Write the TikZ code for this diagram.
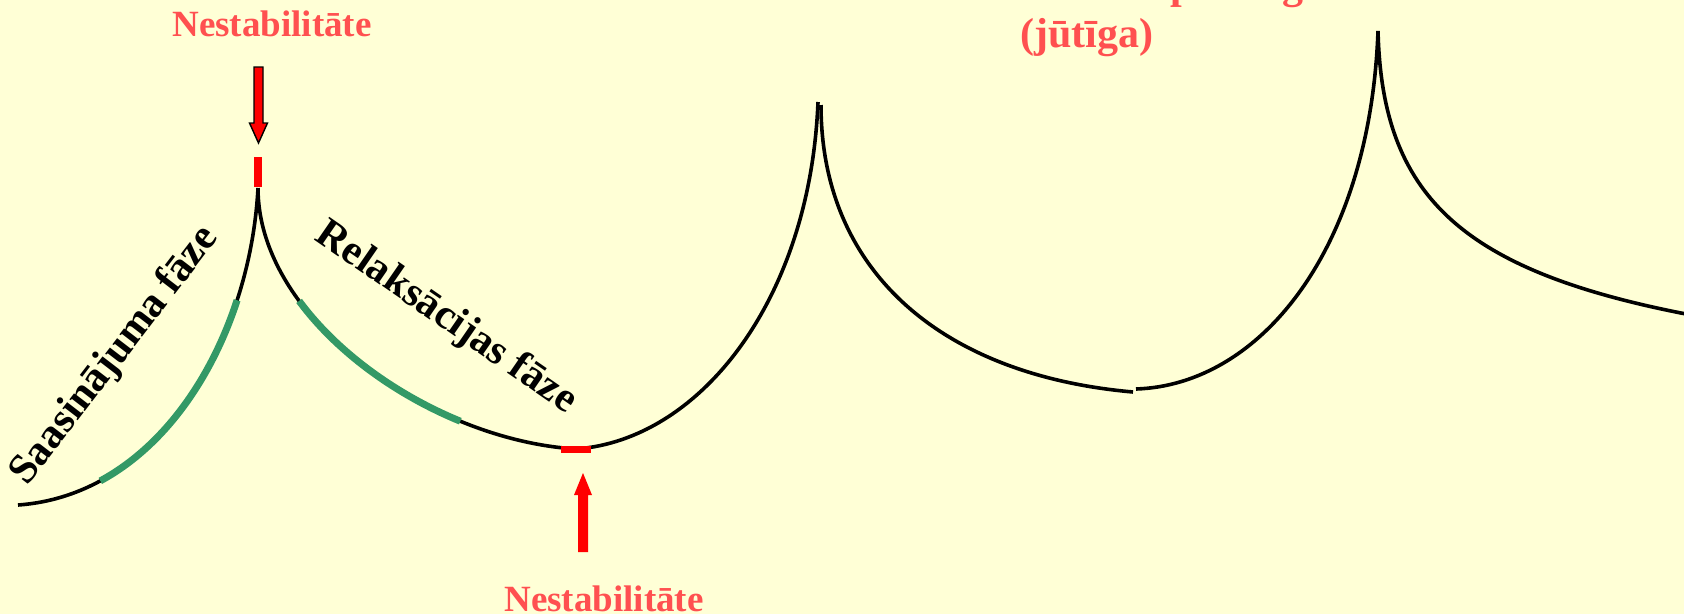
\documentclass[tikz,border=0pt]{standalone}
\usepackage{fontspec}
\setmainfont{Liberation Serif}
\definecolor{bgyellow}{RGB}{255,255,214}
\definecolor{txtred}{RGB}{255,80,80}
\definecolor{arrred}{RGB}{255,0,0}
\definecolor{phgreen}{RGB}{51,153,102}
\tikzset{
  curveline/.style={line width=3.6pt, black, line cap=butt},
  redmark/.style={line width=8pt, arrred, line cap=butt},
  redlabel/.style={text=txtred, font=\fontsize{37}{42}\selectfont\bfseries, inner sep=0pt},
  redlabelbig/.style={text=txtred, font=\fontsize{42}{48.5}\selectfont\bfseries, inner sep=0pt, align=left},
  phaselabel/.style={text=black, font=\fontsize{42}{48}\selectfont\bfseries, inner sep=0pt},
  blockarrow/.style={fill=arrred},
  blockarrowout/.style={fill=arrred, draw=black, line width=1.4pt, line join=miter}
}
\newcommand{\greenpart}[6]{%
  \begin{pgfscope}
  \pgfsetlinewidth{7pt}\pgfsetbuttcap
  \pgfsetstrokecolor{phgreen}
  \pgfpathcurvebetweentime{#1}{#2}{\pgfpointanchor{#3}{center}}{\pgfpointanchor{#4}{center}}{\pgfpointanchor{#5}{center}}{\pgfpointanchor{#6}{center}}
  \pgfusepath{stroke}
  \end{pgfscope}}
\begin{document}
\begin{tikzpicture}[x=1pt,y=-1pt]
\fill[bgyellow] (0,0) rectangle (1684,614);
\useasboundingbox (0,0) rectangle (1684,614);
\clip (0,0) rectangle (1684,614);
% control points
\coordinate (L0) at (18,505);
\coordinate (L1) at (160,495);
\coordinate (L2) at (250,340);
\coordinate (C1) at (258,188);
\coordinate (R1) at (258,320);
\coordinate (R2) at (430,440);
\coordinate (M1) at (576,449);
\coordinate (U1) at (700,440);
\coordinate (U2) at (810,300);
\coordinate (C2a) at (818,102);
\coordinate (C2b) at (821,105);
\coordinate (D1) at (821,270);
\coordinate (D2) at (940,375);
\coordinate (M2a) at (1133,392);
\coordinate (M2b) at (1136,389);
\coordinate (V1) at (1260,385);
\coordinate (V2) at (1370,250);
\coordinate (C3) at (1378,31);
\coordinate (W1) at (1382,195);
\coordinate (W2) at (1460,270);
\coordinate (E) at (1686,314);
% curves
\draw[curveline] (L0) .. controls (L1) and (L2) .. (C1);
\draw[curveline] (C1) .. controls (R1) and (R2) .. (M1);
\draw[curveline] (M1) .. controls (U1) and (U2) .. (C2a);
\draw[curveline] (C2b) .. controls (D1) and (D2) .. (M2a);
\draw[curveline] (M2b) .. controls (V1) and (V2) .. (C3);
\draw[curveline] (C3) .. controls (W1) and (W2) .. (E);
% green phase segments
\greenpart{0.21}{0.75}{L0}{L1}{L2}{C1}
\greenpart{0.30}{0.74}{C1}{R1}{R2}{M1}
% red instability marks
\coordinate (rv1) at (258,157);
\coordinate (rv2) at (258,187);
\draw[redmark] (rv1) -- (rv2);
\coordinate (rh1) at (561,449.5);
\coordinate (rh2) at (591,449.5);
\draw[line width=7pt, arrred, line cap=butt] (rh1) -- (rh2);
% top arrow (down)
\draw[blockarrowout] (254,67) -- (263,67) -- (263,123) -- (267.5,123) -- (258.5,143) -- (249.5,123) -- (254,123) -- cycle;
% bottom arrow (up)
\fill[blockarrow] (578,552) -- (588,552) -- (588,495) -- (592,495) -- (583,473) -- (574,495) -- (578,495) -- cycle;
% labels
\node[redlabel, anchor=base] (nesttop) at (272,36) {Nestabilitāte};
\node[redlabel, anchor=base] (nestbot) at (604,611) {Nestabilitāte};
\node[redlabelbig, anchor=base west] (sens) at (1020,47) {Sistēma pārslogota\\(jūtīga)};
\node[phaselabel, rotate=52.5] (saas) at (115,356) {Saasinājuma fāze};
\node[phaselabel, rotate=-34.6] (relax) at (446,318) {Relaksācijas fāze};
\end{tikzpicture}
\end{document}
